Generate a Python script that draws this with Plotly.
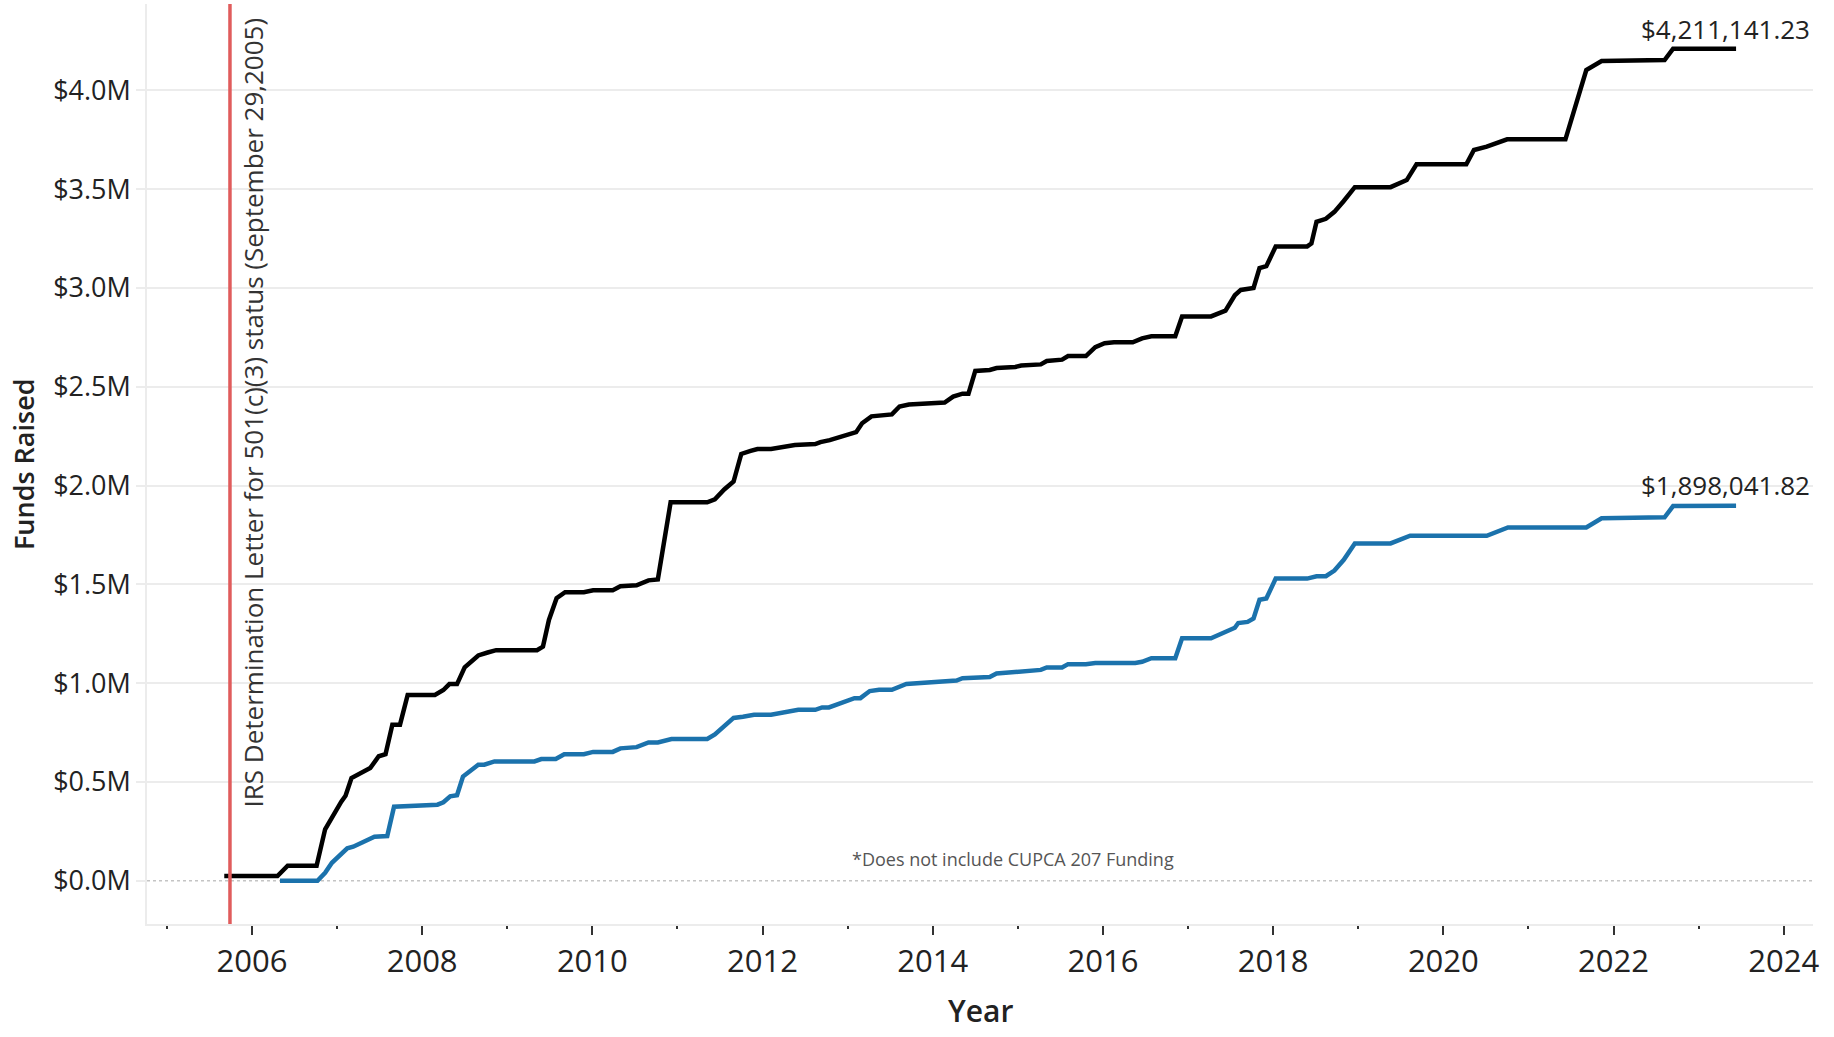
import plotly.graph_objects as go

# ---- data (fractional years, $M) ----
total_years = [2005.675, 2006.30, 2006.42, 2006.76, 2006.86, 2006.95, 2007.05, 2007.10, 2007.17, 2007.39,
               2007.49, 2007.57, 2007.65, 2007.74, 2007.83, 2008.15, 2008.25, 2008.32, 2008.41, 2008.50,
               2008.66, 2008.77, 2008.87, 2009.35, 2009.42, 2009.49, 2009.58, 2009.68, 2009.90, 2010.01,
               2010.24, 2010.33, 2010.52, 2010.66, 2010.77, 2010.92, 2011.35, 2011.44, 2011.55, 2011.66,
               2011.75, 2011.86, 2011.94, 2012.10, 2012.38, 2012.62, 2012.68, 2012.79, 2012.88, 2013.10,
               2013.17, 2013.28, 2013.52, 2013.61, 2013.72, 2014.14, 2014.24, 2014.35, 2014.42, 2014.50,
               2014.67, 2014.75, 2014.97, 2015.04, 2015.27, 2015.34, 2015.52, 2015.59, 2015.80, 2015.91,
               2016.02, 2016.13, 2016.35, 2016.46, 2016.57, 2016.85, 2016.93, 2017.27, 2017.44, 2017.55,
               2017.62, 2017.77, 2017.84, 2017.92, 2018.03, 2018.40, 2018.45, 2018.51, 2018.62, 2018.72,
               2018.83, 2018.96, 2019.38, 2019.49, 2019.57, 2019.685, 2020.27, 2020.36, 2020.51, 2020.75,
               2021.435, 2021.68, 2021.86, 2022.60, 2022.70, 2023.44]
total_values = [0.024, 0.024, 0.076, 0.076, 0.26, 0.33, 0.40, 0.43, 0.52, 0.57,
                0.63, 0.64, 0.79, 0.79, 0.94, 0.94, 0.965, 0.995, 0.995, 1.08,
                1.14, 1.155, 1.167, 1.167, 1.185, 1.32, 1.43, 1.46, 1.46, 1.47,
                1.47, 1.49, 1.495, 1.52, 1.525, 1.915, 1.915, 1.93, 1.98, 2.02,
                2.16, 2.175, 2.185, 2.185, 2.205, 2.21, 2.22, 2.23, 2.24, 2.27,
                2.315, 2.35, 2.36, 2.40, 2.41, 2.42, 2.45, 2.465, 2.465, 2.58,
                2.585, 2.595, 2.60, 2.607, 2.613, 2.63, 2.637, 2.655, 2.655, 2.70,
                2.72, 2.725, 2.725, 2.745, 2.755, 2.755, 2.856, 2.856, 2.885, 2.963,
                2.99, 3.00, 3.10, 3.11, 3.21, 3.21, 3.225, 3.335, 3.35, 3.385,
                3.44, 3.51, 3.51, 3.53, 3.546, 3.626, 3.626, 3.698, 3.715, 3.752,
                3.752, 4.103, 4.148, 4.153, 4.2111, 4.21114123]

subset_years = [2006.33, 2006.77, 2006.86, 2006.94, 2007.12, 2007.19, 2007.44, 2007.59, 2007.67, 2008.18,
                2008.25, 2008.33, 2008.41, 2008.48, 2008.66, 2008.73, 2008.85, 2009.32, 2009.40, 2009.57,
                2009.67, 2009.90, 2010.01, 2010.24, 2010.33, 2010.52, 2010.66, 2010.77, 2010.93, 2011.35,
                2011.44, 2011.66, 2011.77, 2011.90, 2012.10, 2012.42, 2012.62, 2012.70, 2012.78, 2012.93,
                2013.08, 2013.15, 2013.26, 2013.37, 2013.52, 2013.69, 2014.14, 2014.28, 2014.35, 2014.67,
                2014.75, 2014.94, 2015.04, 2015.27, 2015.34, 2015.52, 2015.59, 2015.80, 2015.91, 2016.38,
                2016.46, 2016.57, 2016.85, 2016.93, 2017.27, 2017.42, 2017.55, 2017.59, 2017.70, 2017.77,
                2017.84, 2017.92, 2018.03, 2018.40, 2018.51, 2018.62, 2018.72, 2018.83, 2018.96, 2019.38,
                2019.49, 2019.61, 2020.51, 2020.76, 2021.68, 2021.86, 2022.60, 2022.70, 2023.44]
subset_values = [0.0, 0.0, 0.04, 0.091, 0.164, 0.172, 0.223, 0.226, 0.375, 0.385,
                 0.397, 0.427, 0.433, 0.527, 0.587, 0.587, 0.604, 0.604, 0.616, 0.616,
                 0.64, 0.64, 0.652, 0.652, 0.67, 0.676, 0.70, 0.70, 0.717, 0.717,
                 0.74, 0.824, 0.83, 0.84, 0.84, 0.865, 0.865, 0.877, 0.877, 0.90,
                 0.924, 0.924, 0.96, 0.966, 0.966, 0.996, 1.007, 1.013, 1.025, 1.031,
                 1.049, 1.055, 1.061, 1.067, 1.079, 1.079, 1.096, 1.096, 1.102, 1.102,
                 1.108, 1.126, 1.126, 1.227, 1.227, 1.256, 1.28, 1.304, 1.31, 1.327,
                 1.422, 1.428, 1.529, 1.529, 1.541, 1.541, 1.57, 1.624, 1.707, 1.707,
                 1.724, 1.746, 1.746, 1.788, 1.788, 1.834, 1.839, 1.896, 1.89804182]

irs_date = 2005.742   # September 29, 2005
y_tick_vals = [0, 0.5, 1.0, 1.5, 2.0, 2.5, 3.0, 3.5, 4.0]
y_tick_text = ["$0.0M", "$0.5M", "$1.0M", "$1.5M", "$2.0M", "$2.5M", "$3.0M", "$3.5M", "$4.0M"]
x_tick_vals = [2006, 2008, 2010, 2012, 2014, 2016, 2018, 2020, 2022, 2024]
x_tick_text = [str(v) for v in x_tick_vals]
x_minor_vals = [2005, 2007, 2009, 2011, 2013, 2015, 2017, 2019, 2021, 2023]

FONT = "Open Sans"
BLACK = "#000000"
BLUE = "#1b72ac"

fig = go.Figure()
fig.add_trace(go.Scatter(x=total_years, y=total_values, mode="lines", name="Total",
                         line=dict(color=BLACK, width=4.5), hoverinfo="skip"))
fig.add_trace(go.Scatter(x=subset_years, y=subset_values, mode="lines", name="Subset",
                         line=dict(color=BLUE, width=4.5), hoverinfo="skip"))

# dotted zero line
fig.add_shape(type="line", xref="paper", x0=0, x1=1, yref="y", y0=0, y1=0,
              line=dict(color="#c4c4c4", width=1.5, dash="dot"), layer="below")
# IRS red line
fig.add_shape(type="line", xref="x", x0=irs_date, x1=irs_date, yref="paper", y0=0, y1=1,
              line=dict(color="#e05c5c", width=3.5))

annotations = [
    dict(x=irs_date, y=0.556, xref="x", yref="paper", xanchor="center", yanchor="middle",
         xshift=24, textangle=-90, showarrow=False,
         text="IRS Determination Letter for 501(c)(3) status (September 29,2005)",
         font=dict(family=FONT, size=26, color="#333333")),
    dict(x=1, y=total_values[-1], xref="paper", yref="y", xanchor="right", yanchor="middle",
         yshift=20, xshift=-1, showarrow=False, text="${:,.2f}".format(4211141.23),
         font=dict(family=FONT, size=26, color="#222222")),
    dict(x=1, y=subset_values[-1], xref="paper", yref="y", xanchor="right", yanchor="middle",
         yshift=21, xshift=-1, showarrow=False, text="${:,.2f}".format(1898041.82),
         font=dict(family=FONT, size=26, color="#222222")),
    dict(x=2014.94, y=0.11, xref="x", yref="y", xanchor="center", yanchor="middle",
         showarrow=False, text="*Does not include CUPCA 207 Funding",
         font=dict(family=FONT, size=18, color="#555555")),
    dict(x=0.5, y=-0.094, xref="paper", yref="paper", xanchor="center", yanchor="middle",
         showarrow=False, text="Year",
         font=dict(family=FONT, size=30, color="#222222", weight=600)),
    dict(x=-0.0744, y=0.5, xref="paper", yref="paper", xanchor="center", yanchor="middle",
         textangle=-90, showarrow=False, text="Funds Raised",
         font=dict(family=FONT, size=27, color="#222222", weight=600)),
]

fig.update_layout(
    width=1834, height=1037, autosize=False,
    margin=dict(l=147, r=21, t=4, b=113, pad=0),
    paper_bgcolor="white", plot_bgcolor="white",
    showlegend=False,
    font=dict(family=FONT, color="#222222"),
    annotations=annotations,
    xaxis=dict(range=[2004.767, 2024.344], tickmode="array", tickvals=x_tick_vals, ticktext=x_tick_text,
               showgrid=False, zeroline=False, showline=True, linecolor="#ececec", linewidth=1.5,
               ticks="outside", ticklen=9, tickwidth=1.5, tickcolor="#333333",
               tickfont=dict(family=FONT, size=31, color="#222222"),
               minor=dict(tickmode="array", tickvals=x_minor_vals,
                          ticks="outside", ticklen=3.5, tickwidth=1.5, tickcolor="#333333", showgrid=False)),
    yaxis=dict(range=[-0.219, 4.437], tickmode="array", tickvals=y_tick_vals, ticktext=y_tick_text,
               showgrid=True, gridcolor="#ececec", gridwidth=1.5,
               zeroline=True, zerolinecolor="rgba(0,0,0,0)", zerolinewidth=1,
               showline=True, linecolor="#ececec", linewidth=1.5,
               ticks="outside", ticklen=9, tickwidth=1.5, tickcolor="#ececec",
               tickfont=dict(family=FONT, size=27, color="#222222")),
)

fig.write_html("out.html", config={"displayModeBar": False},
               post_script="document.body.style.margin='0';")
